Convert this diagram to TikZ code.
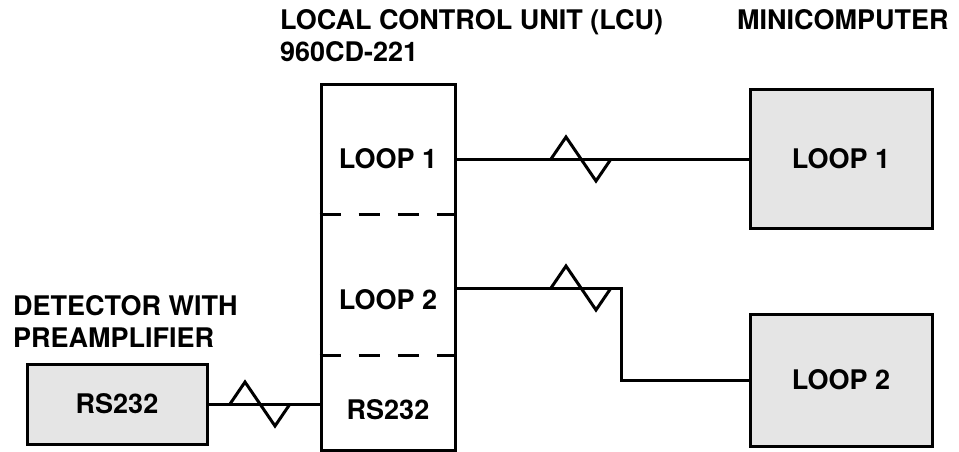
\documentclass[tikz,border=0pt]{standalone}
\usepackage{fontspec}
\setmainfont{TeX Gyre Heros}
\usetikzlibrary{positioning}
\tikzset{
  unitbox/.style={draw,line width=3pt,minimum width=134pt,minimum height=365pt,inner sep=0pt},
  hostbox/.style={draw,line width=3pt,fill=gray!20,inner sep=0pt},
  boxtext/.style={font=\fontsize{27}{31}\selectfont\bfseries,inner sep=0pt},
  heading/.style={font=\fontsize{27}{31}\selectfont\bfseries,inner sep=0pt,anchor=base west},
  link/.style={line width=3pt,line join=miter},
  split/.style={line width=3pt,dash pattern=on 21pt off 18pt},
  modem/.pic={\draw[link] (0,0) -- (15,-22) -- (45,22) -- (60,0);}
}

\begin{document}
\begin{tikzpicture}[x=1pt,y=-1pt]
      \useasboundingbox (0,0) rectangle (959,452);
      \node[heading] (lcuhead) at (280,30) {LOCAL CONTROL UNIT (LCU)};
      \node[heading] (lcucode) at (280,62) {960CD-221};
      \node[heading] (minihead) at (737,30) {MINICOMPUTER};
      \node[heading] (dethead) at (13,315) {DETECTOR WITH};
      \node[heading] (preamp) at (13,347) {PREAMPLIFIER};

      % local control unit
      \node[unitbox] (lcu) at (388,267.5) {};
      \foreach \y in {214,355}
        \draw[split] (lcu.west |- 0,\y) -- (lcu.east |- 0,\y);
      \node[boxtext] (lpa) at (388,159) {LOOP 1};
      \node[boxtext] (lpb) at (388,300) {LOOP 2};
      \node[boxtext] (rsb) at (388,410) {RS232};

      % minicomputer and detector
      \node[hostbox,minimum width=182pt,minimum height=138pt] (mna) at (841,159) {};
      \node[boxtext] at (mna) {LOOP 1};
      \node[hostbox,minimum width=182pt,minimum height=132pt] (mnb) at (841,380) {};
      \node[boxtext] at (mnb) {LOOP 2};
      \node[hostbox,minimum width=180pt,minimum height=80pt] (det) at (117,404) {};
      \node[boxtext] at (det) {RS232};

      \coordinate (bend) at (621,288);
      \draw[link] (lcu.east |- lpa) -- (mna.west);
      \draw[link] (lcu.east |- bend) -- (bend) |- (mnb.west);
      \draw[link] (det.east) -- (lcu.west |- det.east);
      \foreach \x/\y in {551/159,551/288,230/404}
        \pic at (\x,\y) {modem};
    \end{tikzpicture}
\end{document}
